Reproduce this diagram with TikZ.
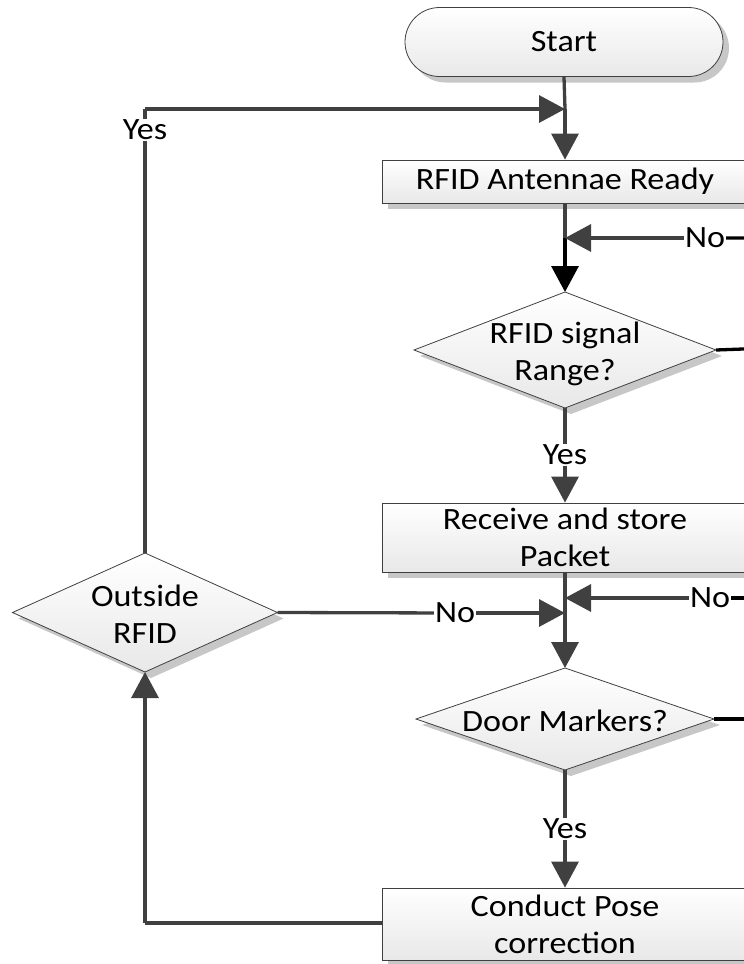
\documentclass[tikz,border=0pt]{standalone}
\usepackage{fontspec}
\setmainfont{Carlito}[FakeStretch=1.1]
\usetikzlibrary{shapes.geometric,shapes.misc,arrows.meta,shadows}
\definecolor{ln}{HTML}{404040}
\newcommand\ztext[1]{\smash{\makebox[0pt]{\raisebox{-0.35em}{\begin{tabular}{@{}c@{}}#1\end{tabular}}}}}
\begin{document}
\begin{tikzpicture}[x=1pt,y=-1pt,
  every node/.style={font=\fontsize{31}{37}\selectfont},
  boxfill/.style={draw=ln, line width=0.8pt, top color=white, bottom color=black!9,
    drop shadow={shadow xshift=6pt, shadow yshift=-6pt, fill=black!22, opacity=1}},
  procbox/.style={boxfill, rectangle, minimum width=366pt, inner sep=0pt, align=center},
  decbox/.style={boxfill, diamond, aspect=1, inner sep=0pt, outer sep=0pt},
  termbox/.style={boxfill, rounded rectangle, minimum width=318pt, minimum height=69pt, inner sep=0pt},
  conn/.style={draw=ln, line width=3.3pt},
  arr/.style={conn, -{Triangle[length=26pt,width=27pt]}},
  lbl/.style={fill=white, inner sep=1pt, text=black}
]
\useasboundingbox (0,0) rectangle (744,964);
\clip (0,0) rectangle (744,964);

% nodes
\node[termbox] (start) at (564,42) {Start};
\node[procbox, minimum height=43pt] (ant) at (565,181.5) {RFID Antennae Ready};
\node[decbox, minimum width=302pt, minimum height=116pt] (sig) at (565,350) {\ztext{RFID signal\\Range?}};
\node[procbox, minimum height=69pt] (recv) at (565,537.5) {Receive and store\\Packet};
\node[decbox, minimum width=298pt, minimum height=102pt] (door) at (565,719) {\ztext{Door Markers?}};
\node[procbox, minimum height=72pt] (pose) at (565,924) {Conduct Pose\\correction};
\node[decbox, minimum width=265pt, minimum height=119pt] (out) at (145,612.5) {\ztext{Outside\\RFID}};

% junctions and off-picture ends
\coordinate (jy) at (565,109);
\coordinate (j1) at (565,238);
\coordinate (j2r) at (565,598);
\coordinate (j2l) at (565,613);
\coordinate (r1) at (770,348);
\coordinate (r1b) at (770,238);
\coordinate (r2) at (770,719);
\coordinate (r2b) at (770,598);
\coordinate (cl) at (145,923);

% main flow
\draw[conn] (start.south) -- (jy);
\draw[arr] (jy) -- (ant.north);
\draw[conn] (ant.south) -- (j1);
\draw[draw=black, line width=3.3pt, -{Triangle[length=26pt,width=27pt]}] (j1) -- (sig.north);
\node[lbl] (y1) at (565,455) {Yes};
\draw[conn] (sig.south) -- (y1);
\draw[arr] (y1) -- (recv.north);
\draw[conn] (recv.south) -- (j2l);
\draw[arr] (j2l) -- (door.north);
\node[lbl] (y2) at (565,829) {Yes};
\draw[conn] (door.south) -- (y2);
\draw[arr] (y2) -- (pose.north);

% No loops from the right
\node[lbl] (n1) at (705,238) {No};
\draw[draw=black, line width=3.3pt] (sig.east) -- (r1) -- (r1b) -- (n1);
\draw[arr] (n1) -- (j1);
\node[lbl] (n2) at (710,598) {No};
\draw[draw=black, line width=3.3pt] (door.east) -- (r2) -- (r2b) -- (n2);
\draw[arr] (n2) -- (j2r);

% Outside RFID branch
\node[lbl] (n3) at (455,613) {No};
\draw[conn] (out.east) -- (n3);
\draw[arr] (n3) -- (j2l);
\draw[conn] (pose.west |- cl) -- (cl);
\draw[arr] (cl) -- (out.south);
\node[lbl] (y3) at (145,130) {Yes};
\draw[conn] (out.north) -- (y3);
\draw[conn] (y3.north) -- (145,109);
\draw[arr] (145,109) -- (jy);
\end{tikzpicture}
\end{document}
